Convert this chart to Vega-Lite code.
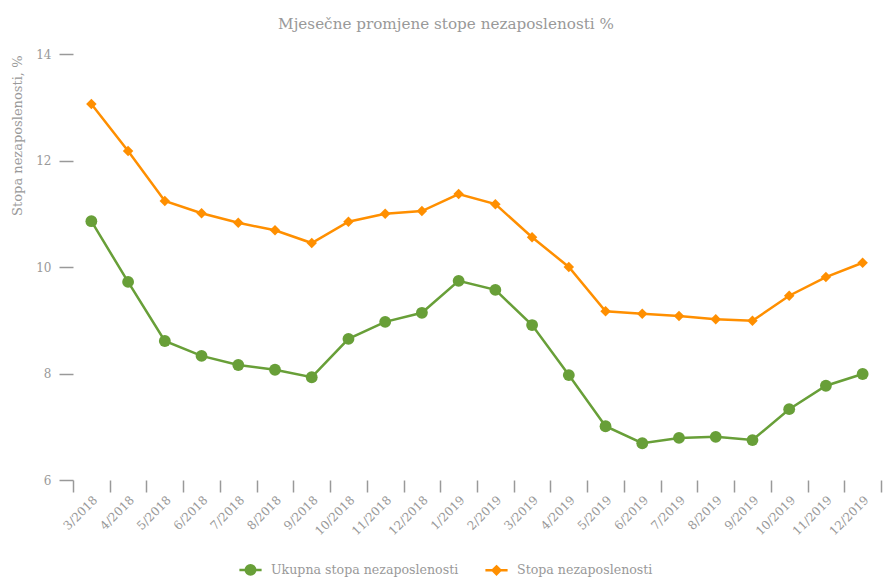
{
  "$schema": "https://vega.github.io/schema/vega-lite/v6.json",
  "autosize": "none",
  "width": 808,
  "height": 426,
  "padding": {"left": 73, "top": 54, "right": 4, "bottom": 104},
  "background": "white",
  "config": {
    "view": {"stroke": null},
    "font": "DejaVu Serif"
  },
  "title": {
    "text": "Mjesečne promjene stope nezaposlenosti %",
    "font": "DejaVu Serif",
    "fontSize": 15.2,
    "fontWeight": "normal",
    "color": "#999999",
    "anchor": "middle",
    "dx": -31,
    "offset": 16
  },
  "data": {
    "values": [
      {"m": "3/2018", "s": "Ukupna stopa nezaposlenosti", "v": 10.86},
      {"m": "4/2018", "s": "Ukupna stopa nezaposlenosti", "v": 9.72},
      {"m": "5/2018", "s": "Ukupna stopa nezaposlenosti", "v": 8.61},
      {"m": "6/2018", "s": "Ukupna stopa nezaposlenosti", "v": 8.33},
      {"m": "7/2018", "s": "Ukupna stopa nezaposlenosti", "v": 8.16},
      {"m": "8/2018", "s": "Ukupna stopa nezaposlenosti", "v": 8.07},
      {"m": "9/2018", "s": "Ukupna stopa nezaposlenosti", "v": 7.93},
      {"m": "10/2018", "s": "Ukupna stopa nezaposlenosti", "v": 8.65},
      {"m": "11/2018", "s": "Ukupna stopa nezaposlenosti", "v": 8.97},
      {"m": "12/2018", "s": "Ukupna stopa nezaposlenosti", "v": 9.14},
      {"m": "1/2019", "s": "Ukupna stopa nezaposlenosti", "v": 9.74},
      {"m": "2/2019", "s": "Ukupna stopa nezaposlenosti", "v": 9.57},
      {"m": "3/2019", "s": "Ukupna stopa nezaposlenosti", "v": 8.91},
      {"m": "4/2019", "s": "Ukupna stopa nezaposlenosti", "v": 7.97},
      {"m": "5/2019", "s": "Ukupna stopa nezaposlenosti", "v": 7.01},
      {"m": "6/2019", "s": "Ukupna stopa nezaposlenosti", "v": 6.69},
      {"m": "7/2019", "s": "Ukupna stopa nezaposlenosti", "v": 6.79},
      {"m": "8/2019", "s": "Ukupna stopa nezaposlenosti", "v": 6.81},
      {"m": "9/2019", "s": "Ukupna stopa nezaposlenosti", "v": 6.75},
      {"m": "10/2019", "s": "Ukupna stopa nezaposlenosti", "v": 7.33},
      {"m": "11/2019", "s": "Ukupna stopa nezaposlenosti", "v": 7.77},
      {"m": "12/2019", "s": "Ukupna stopa nezaposlenosti", "v": 7.99},
      {"m": "3/2018", "s": "Stopa nezaposlenosti", "v": 13.06},
      {"m": "4/2018", "s": "Stopa nezaposlenosti", "v": 12.18},
      {"m": "5/2018", "s": "Stopa nezaposlenosti", "v": 11.24},
      {"m": "6/2018", "s": "Stopa nezaposlenosti", "v": 11.01},
      {"m": "7/2018", "s": "Stopa nezaposlenosti", "v": 10.83},
      {"m": "8/2018", "s": "Stopa nezaposlenosti", "v": 10.69},
      {"m": "9/2018", "s": "Stopa nezaposlenosti", "v": 10.45},
      {"m": "10/2018", "s": "Stopa nezaposlenosti", "v": 10.85},
      {"m": "11/2018", "s": "Stopa nezaposlenosti", "v": 11.0},
      {"m": "12/2018", "s": "Stopa nezaposlenosti", "v": 11.05},
      {"m": "1/2019", "s": "Stopa nezaposlenosti", "v": 11.37},
      {"m": "2/2019", "s": "Stopa nezaposlenosti", "v": 11.18},
      {"m": "3/2019", "s": "Stopa nezaposlenosti", "v": 10.56},
      {"m": "4/2019", "s": "Stopa nezaposlenosti", "v": 10.0},
      {"m": "5/2019", "s": "Stopa nezaposlenosti", "v": 9.17},
      {"m": "6/2019", "s": "Stopa nezaposlenosti", "v": 9.12},
      {"m": "7/2019", "s": "Stopa nezaposlenosti", "v": 9.08},
      {"m": "8/2019", "s": "Stopa nezaposlenosti", "v": 9.02},
      {"m": "9/2019", "s": "Stopa nezaposlenosti", "v": 8.99},
      {"m": "10/2019", "s": "Stopa nezaposlenosti", "v": 9.46},
      {"m": "11/2019", "s": "Stopa nezaposlenosti", "v": 9.81},
      {"m": "12/2019", "s": "Stopa nezaposlenosti", "v": 10.08}
    ]
  },
  "encoding": {
    "x": {
      "field": "m",
      "type": "ordinal",
      "sort": null,
      "scale": {"paddingInner": 0, "paddingOuter": 0},
      "axis": {
        "title": null,
        "domain": false,
        "tickBand": "extent",
        "tickSize": 12,
        "tickWidth": 1.5,
        "tickColor": "#999999",
        "labelAngle": -45,
        "labelAlign": "right",
        "labelBaseline": "top",
        "labelPadding": 2,
        "labelFont": "DejaVu Serif",
        "labelFontSize": 12,
        "labelColor": "#999999"
      }
    },
    "y": {
      "field": "v",
      "type": "quantitative",
      "scale": {"domain": [6, 14], "nice": false, "zero": false},
      "axis": {
        "values": [6, 8, 10, 12, 14],
        "grid": false,
        "domain": false,
        "tickSize": 14,
        "tickWidth": 1.5,
        "tickColor": "#999999",
        "labelPadding": 8,
        "labelFont": "DejaVu Serif",
        "labelFontSize": 12,
        "labelColor": "#999999",
        "title": "Stopa nezaposlenosti, %",
        "titleFont": "DejaVu Serif",
        "titleFontSize": 13,
        "titleFontWeight": "normal",
        "titleColor": "#999999",
        "titleAnchor": "end",
        "titleX": -49,
        "titleY": 1
      }
    }
  },
  "layer": [
    {
      "transform": [{"filter": "datum.s === 'Ukupna stopa nezaposlenosti'"}],
      "mark": {"type": "line", "strokeWidth": 2.5, "color": "#689f38"}
    },
    {
      "transform": [{"filter": "datum.s === 'Stopa nezaposlenosti'"}],
      "mark": {"type": "line", "strokeWidth": 2.5, "color": "#ff8f00"}
    },
    {
      "transform": [{"filter": "datum.s === 'Ukupna stopa nezaposlenosti'"}],
      "mark": {"type": "point", "filled": true, "opacity": 1, "size": 140, "shape": "circle", "color": "#689f38"}
    },
    {
      "transform": [{"filter": "datum.s === 'Stopa nezaposlenosti'"}],
      "mark": {"type": "point", "filled": true, "opacity": 1, "size": 110, "shape": "diamond", "color": "#ff8f00"}
    },
    {
      "transform": [{"filter": "false"}],
      "mark": {"type": "point", "filled": false, "opacity": 1, "size": 144, "strokeWidth": 2.5},
      "encoding": {
        "color": {
          "field": "s",
          "type": "nominal",
          "scale": {
            "domain": ["Ukupna stopa nezaposlenosti", "Stopa nezaposlenosti"],
            "range": ["#689f38", "#ff8f00"]
          },
          "legend": {
            "orient": "none",
            "legendX": 170,
            "legendY": 508,
            "direction": "horizontal",
            "title": null,
            "symbolSize": 144,
            "symbolStrokeWidth": 2.5,
            "symbolOpacity": 1,
            "labelOffset": 13,
            "labelLimit": 400,
            "columnPadding": 21,
            "labelFont": "DejaVu Serif",
            "labelFontSize": 12.6,
            "labelColor": "#999999"
          }
        },
        "shape": {
          "field": "s",
          "type": "nominal",
          "scale": {
            "domain": ["Ukupna stopa nezaposlenosti", "Stopa nezaposlenosti"],
            "range": [
              "M-1.85,0H1.85M-0.79,0A0.79,0.79 0 1,1 0.79,0A0.79,0.79 0 1,1 -0.79,0M-0.55,0A0.55,0.55 0 1,1 0.55,0A0.55,0.55 0 1,1 -0.55,0M-0.31,0A0.31,0.31 0 1,1 0.31,0A0.31,0.31 0 1,1 -0.31,0M-0.08,0A0.08,0.08 0 1,1 0.08,0A0.08,0.08 0 1,1 -0.08,0",
              "M-1.85,0H1.85M0,-0.65L0.65,0L0,0.65L-0.65,0ZM0,-0.42L0.42,0L0,0.42L-0.42,0ZM0,-0.2L0.2,0L0,0.2L-0.2,0Z"
            ]
          },
          "legend": {
            "orient": "none",
            "legendX": 170,
            "legendY": 508,
            "direction": "horizontal",
            "title": null,
            "symbolSize": 144,
            "symbolStrokeWidth": 2.5,
            "symbolOpacity": 1,
            "labelOffset": 13,
            "labelLimit": 400,
            "columnPadding": 21,
            "labelFont": "DejaVu Serif",
            "labelFontSize": 12.6,
            "labelColor": "#999999"
          }
        }
      }
    }
  ]
}
